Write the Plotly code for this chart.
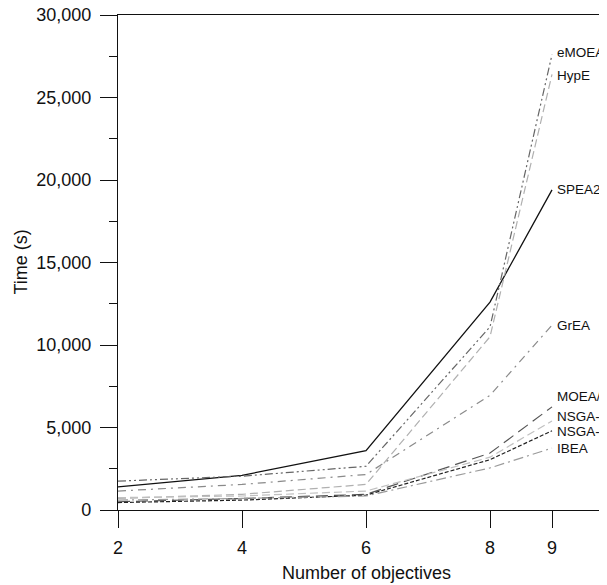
import plotly.graph_objects as go

objectives = [2, 4, 6, 8, 9]
series_names = ["SPEA2", "eMOEA", "HypE", "GrEA", "MOEA/D", "NSGA-III", "NSGA-II", "IBEA"]
spea2 = [1400, 2100, 3600, 12600, 19400]
emoea = [1750, 2050, 2650, 11100, 27600]
hype = [700, 950, 1550, 10500, 26400]
grea = [1150, 1550, 2150, 6950, 11200]
moead = [500, 700, 950, 3450, 6250]
nsga3 = [750, 850, 1150, 3200, 5400]
nsga2 = [450, 600, 900, 3050, 4800]
ibea = [600, 700, 850, 2550, 3750]
label_y = [19400, 27750, 26350, 11200, 6900, 5650, 4750, 3700]
label_text = ["SPEA2", "eMOEA", "HypE", "GrEA", "MOEA/D", "NSGA-III", "NSGA-II", "IBEA"]
y_ticks = [0, 5000, 10000, 15000, 20000, 25000, 30000]
y_minor = [2500, 7500, 12500, 17500, 22500, 27500]
x_ticks = [2, 4, 6, 8, 9]

values = [spea2, emoea, hype, grea, moead, nsga3, nsga2, ibea]
styles = [
    ("#111111", "solid", 1.3),
    ("#666666", "8px,3px,2px,3px,2px,3px", 1.2),
    ("#b0b0b0", "8px,4px", 1.2),
    ("#8a8a8a", "8px,5px,2px,5px", 1.2),
    ("#555555", "12px,6px", 1.2),
    ("#c0c0c0", "8px,4px", 1.2),
    ("#222222", "4px,2px", 1.2),
    ("#9a9a9a", "10px,4px,2px,4px", 1.2),
]
FAM = "Liberation Sans, Arial"

fig = go.Figure()
for name, vals, (c, d, w) in zip(series_names, values, styles):
    fig.add_trace(go.Scatter(x=objectives, y=vals, mode="lines", name=name,
                             line=dict(color=c, dash=d, width=w)))

for t, yv in zip(label_text, label_y):
    fig.add_annotation(x=9, y=yv, text=t, showarrow=False, xanchor="left",
                       yanchor="middle", xshift=3,
                       font=dict(family=FAM, size=13.5, color="#111"))

fig.add_annotation(xref="paper", yref="paper", x=0.509, y=-0.127, text="Number of objectives",
                   showarrow=False, xanchor="center", yanchor="middle",
                   font=dict(family=FAM, size=18, color="#111"))
fig.add_annotation(xref="paper", yref="paper", x=-0.2004, y=0.5, text="Time (s)",
                   showarrow=False, xanchor="center", yanchor="middle", textangle=-90,
                   font=dict(family=FAM, size=18, color="#111"))

fig.update_layout(
    width=599, height=577,
    margin=dict(l=110, r=0, t=7, b=75),
    plot_bgcolor="white", paper_bgcolor="white",
    showlegend=False,
    font=dict(family=FAM, size=18, color="#111"),
)
fig.update_xaxes(range=[2, 9.887], tickvals=x_ticks, ticks="outside", ticklen=17,
                 tickwidth=1.3, tickcolor="#111", showline=True, linecolor="#111", linewidth=1.3,
                 mirror=True, showgrid=False, zeroline=False, automargin=False,
                 ticklabelstandoff=4, tickfont=dict(size=18))
fig.update_yaxes(range=[0, 30000], tickvals=y_ticks,
                 tickformat=",d", ticks="outside", ticklen=17, tickwidth=1.3, tickcolor="#111",
                 showline=True, linecolor="#111", linewidth=1.3, showgrid=False, zeroline=False,
                 automargin=False, ticklabelstandoff=5, ticklabeloverflow="allow",
                 minor=dict(tickvals=y_minor, ticks="outside",
                            ticklen=8, tickwidth=1.3, tickcolor="#111"),
                 tickfont=dict(size=18))
fig.write_html("out.html")
